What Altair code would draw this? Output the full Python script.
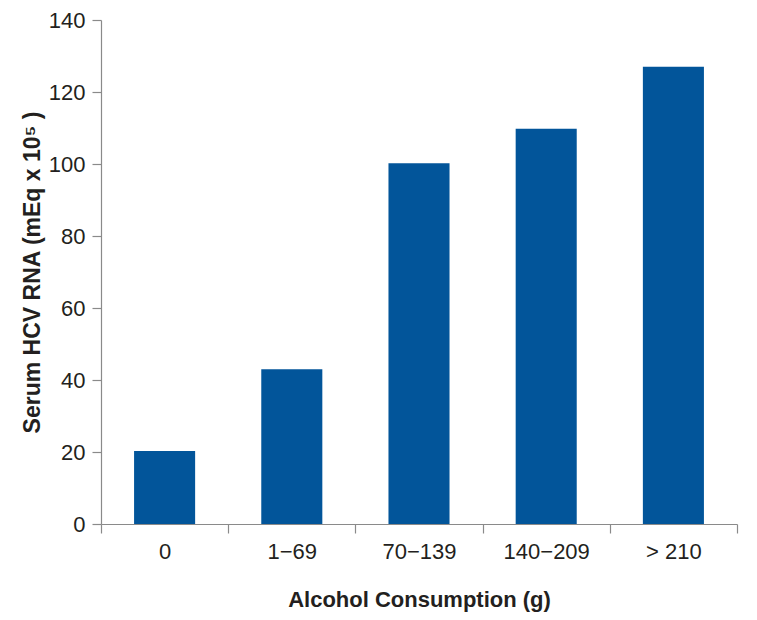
import altair as alt
import pandas as pd

categories = ["0", "1\u221269", "70\u2212139", "140\u2212209", "> 210"]
values = [20.3, 43.0, 100.2, 109.8, 127.0]

df = pd.DataFrame({"cat": categories, "val": values})

AXIS_COLOR = "#8a8a8a"
TEXT_COLOR = "#231f20"
FONT = "Liberation Sans"

chart = alt.Chart(df).mark_bar(color="#02559a", width={"band": 0.48}).encode(
    x=alt.X(
        "cat:N",
        sort=categories,
        scale=alt.Scale(paddingInner=0, paddingOuter=0),
        axis=alt.Axis(
            title="Alcohol Consumption (g)",
            labelAngle=0,
            tickBand="extent",
            tickSize=9,
            labelPadding=8,
            titlePadding=27,
            titleFontSize=22,
        ),
    ),
    y=alt.Y(
        "val:Q",
        scale=alt.Scale(domain=[0, 140], nice=False),
        axis=alt.Axis(
            title="Serum HCV RNA (mEq x 10\u2075 )",
            values=[0, 20, 40, 60, 80, 100, 120, 140],
            tickSize=9,
            labelPadding=7,
            titlePadding=4,
            titleFontSize=23,
            grid=False,
        ),
    ),
).properties(
    width=636,
    height=504,
    padding={"left": 13, "top": 1, "right": 5, "bottom": 5},
).configure_view(
    stroke=None
).configure_axis(
    domainColor=AXIS_COLOR,
    tickColor=AXIS_COLOR,
    domainWidth=1.2,
    tickWidth=1.2,
    labelFont=FONT,
    labelFontSize=22,
    labelColor=TEXT_COLOR,
    titleFont=FONT,
    titleFontWeight="bold",
    titleColor=TEXT_COLOR,
    grid=False,
)

chart.save("out.html", embed_options={"renderer": "svg", "actions": False})
